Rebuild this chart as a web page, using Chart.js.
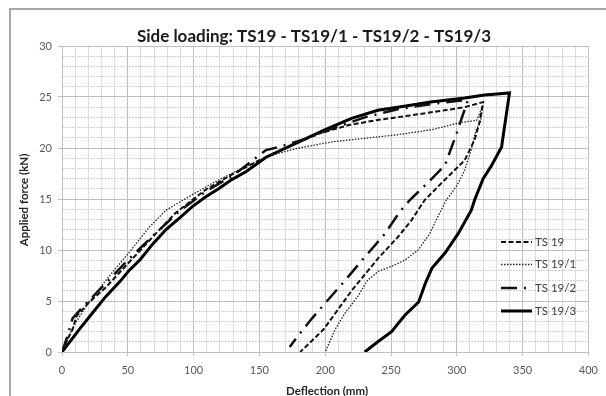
<!DOCTYPE html>
<html><head><meta charset="utf-8">
<script src="https://cdn.jsdelivr.net/npm/chart.js@4/dist/chart.umd.min.js"></script>
<style>html,body{margin:0;padding:0;background:#fff}canvas{display:block}</style>
</head><body>
<canvas id="c" width="606" height="396"></canvas>
<script>
const chartTitle = 'Side loading: TS19 - TS19/1 - TS19/2 - TS19/3';
const xAxisTitle = 'Deflection (mm)';
const yAxisTitle = 'Applied force (kN)';
const seriesNames = ['TS 19', 'TS 19/1', 'TS 19/2', 'TS 19/3'];

const ts19X = [0, 4, 8, 11, 20, 33, 51, 69, 86, 109, 129, 150, 175, 195, 218, 240, 265, 286, 306, 320, 317, 313.5, 306, 291, 275.6, 265.5, 255.4, 240.3, 220, 198.7, 181];
const ts19Y = [0, 1.2, 2.2, 3.5, 4.8, 6.3, 8.8, 11.3, 13.6, 15.9, 17.4, 18.8, 20.3, 21.4, 22.25, 22.75, 23.2, 23.6, 24.0, 24.5, 22.4, 20.8, 18.8, 16.9, 14.9, 12.9, 11.3, 9.2, 6.0, 2.2, 0];

const ts191X = [0, 5, 10, 20, 35, 50, 66, 79, 96, 115, 135, 150, 165, 180, 205, 230, 255, 281, 303, 315, 320, 318, 314.7, 310.9, 305.9, 300, 292, 285.7, 279.4, 270.6, 260.5, 250.4, 240.3, 232, 225, 215, 207.5, 200];
const ts191Y = [0, 1.5, 2.8, 4.8, 7.3, 9.6, 12.2, 13.9, 15.2, 16.6, 17.9, 18.8, 19.5, 20.0, 20.6, 20.95, 21.3, 21.8, 22.5, 22.7, 24.2, 22.6, 21.8, 19.8, 17.8, 16.3, 14.9, 13.3, 11.6, 10.0, 9.0, 8.4, 7.9, 7.0, 5.5, 3.8, 2.2, 0];

const ts192X = [0, 4, 8, 15, 30, 50, 70, 90, 110, 130, 155, 165, 185, 205, 230, 255, 280, 300, 308.4, 306, 300, 291, 278, 264.3, 256.7, 245.4, 230, 215, 200, 190, 180, 173];
const ts192Y = [0, 1.5, 3.3, 4.3, 6.3, 9.0, 11.5, 13.9, 15.8, 17.3, 19.8, 20.1, 20.9, 21.9, 23.0, 23.8, 24.3, 24.6, 24.7, 23.8, 21.5, 18.3, 16.6, 14.9, 13.75, 11.6, 9.3, 7.0, 4.8, 3.3, 1.7, 0.5];

const ts193X = [0, 3, 13, 23, 33, 44, 51, 59, 69, 79, 89, 99, 109, 119, 129, 140, 155, 180, 200, 220, 240, 260, 280, 306, 321, 340, 334, 326, 320, 313.5, 311, 301, 291, 281, 276, 271, 260.5, 250.4, 240, 230];
const ts193Y = [0, 0.5, 2.2, 3.8, 5.4, 6.9, 8.0, 9.0, 10.6, 12.0, 13.1, 14.25, 15.2, 16.0, 16.9, 17.7, 19.1, 20.6, 21.8, 22.9, 23.7, 24.1, 24.5, 24.9, 25.2, 25.4, 20.1, 18.2, 17.0, 14.9, 13.9, 11.6, 9.7, 8.2, 6.7, 4.9, 3.6, 2.0, 1.0, 0];

const xTickLabels = [0, 50, 100, 150, 200, 250, 300, 350, 400];
const yTickLabels = [0, 5, 10, 15, 20, 25, 30];

const pts = (xs, ys) => xs.map((x, i) => ({x: x, y: ys[i]}));

const FONT = 'Lato, "Open Sans", sans-serif';

const decor = {
  id: 'decor',
  beforeDraw(chart) {
    const ctx = chart.ctx;
    ctx.save();
    ctx.strokeStyle = '#a6a6a6';
    ctx.lineWidth = 2;
    ctx.strokeRect(10, 9, 640, 420);
    ctx.restore();
  },
  afterDraw(chart) {
    const ctx = chart.ctx;
    ctx.save();
    ctx.fillStyle = '#1a1a1a';
    ctx.font = 'bold 16px ' + FONT;
    const w = ctx.measureText(chartTitle).width;
    const size = Math.min(17, 16 * 362 / w);
    ctx.font = 'bold ' + size.toFixed(2) + 'px ' + FONT;
    ctx.textAlign = 'center';
    ctx.textBaseline = 'middle';
    ctx.fillText(chartTitle, 314, 37);

    ctx.fillStyle = '#262626';
    ctx.font = 'bold 11.5px ' + FONT;
    ctx.fillText(xAxisTitle, 327, 391.5);
    ctx.save();
    ctx.translate(24, 200);
    ctx.rotate(-Math.PI / 2);
    ctx.fillText(yAxisTitle, 0, 0);
    ctx.restore();

    // legend
    const ys = [242, 264.5, 288, 311];
    chart.data.datasets.forEach((ds, i) => {
      ctx.save();
      ctx.strokeStyle = ds.borderColor;
      ctx.lineWidth = ds.borderWidth;
      ctx.setLineDash(ds.borderDash || []);
      ctx.beginPath();
      ctx.moveTo(501, ys[i]);
      ctx.lineTo(532, ys[i]);
      ctx.stroke();
      ctx.restore();
      ctx.fillStyle = '#404040';
      ctx.font = '11.5px ' + FONT;
      ctx.textAlign = 'left';
      ctx.textBaseline = 'middle';
      ctx.fillText(ds.label, 535, ys[i]);
    });
    ctx.restore();
  }
};

new Chart(document.getElementById('c'), {
  type: 'scatter',
  data: {
    datasets: [
      {label: seriesNames[0], data: pts(ts19X, ts19Y), borderColor: '#111', borderWidth: 2, borderDash: [5, 2.5]},
      {label: seriesNames[1], data: pts(ts191X, ts191Y), borderColor: '#222', borderWidth: 1.3, borderDash: [1.5, 1.5]},
      {label: seriesNames[2], data: pts(ts192X, ts192Y), borderColor: '#111', borderWidth: 2.5, borderDash: [16, 7, 2, 7]},
      {label: seriesNames[3], data: pts(ts193X, ts193Y), borderColor: '#000', borderWidth: 3, borderDash: []}
    ].map(d => Object.assign(d, {showLine: true, pointRadius: 0, pointHoverRadius: 0, fill: false, tension: 0, backgroundColor: d.borderColor}))
  },
  options: {
    responsive: false,
    animation: false,
    devicePixelRatio: 1,
    layout: {padding: {left: 0, right: 15, top: 46, bottom: 0}},
    plugins: {legend: {display: false}, title: {display: false}, tooltip: {enabled: false}},
    scales: {
      x: {
        type: 'linear', min: 0, max: 400,
        afterFit(s) { s.height = 44; },
        afterBuildTicks(s) { s.ticks = []; for (let v = 0; v <= 400; v += 10) s.ticks.push({value: v}); },
        ticks: {
          autoSkip: false, maxRotation: 0, padding: 8, color: '#595959',
          font: {family: FONT, size: 11},
          callback: v => xTickLabels.includes(v) ? String(v) : ''
        },
        grid: {
          color: c => (c.tick && c.tick.value % 50 === 0) ? '#bfbfbf' : '#dcdcdc',
          tickColor: c => (c.tick && c.tick.value % 50 === 0) ? '#bfbfbf' : 'rgba(0,0,0,0)',
          tickLength: 4, lineWidth: 1
        },
        border: {color: '#bfbfbf'}
      },
      y: {
        type: 'linear', min: 0, max: 30,
        afterFit(s) { s.width = 62; },
        afterBuildTicks(s) { s.ticks = []; for (let v = 0; v <= 30; v += 1) s.ticks.push({value: v}); },
        ticks: {
          autoSkip: false, padding: 6, color: '#595959',
          font: {family: FONT, size: 11},
          callback: v => yTickLabels.includes(v) ? String(v) : ''
        },
        grid: {
          color: c => (c.tick && c.tick.value % 5 === 0) ? '#bfbfbf' : '#d0d0d0',
          tickColor: c => (c.tick && c.tick.value % 5 === 0) ? '#bfbfbf' : 'rgba(0,0,0,0)',
          tickLength: 4, lineWidth: 1
        },
        border: {
          color: '#bfbfbf',
          dash: c => (c && c.tick && c.tick.value % 5 !== 0) ? [2, 1] : []
        }
      }
    }
  },
  plugins: [decor]
});
</script>
</body></html>
